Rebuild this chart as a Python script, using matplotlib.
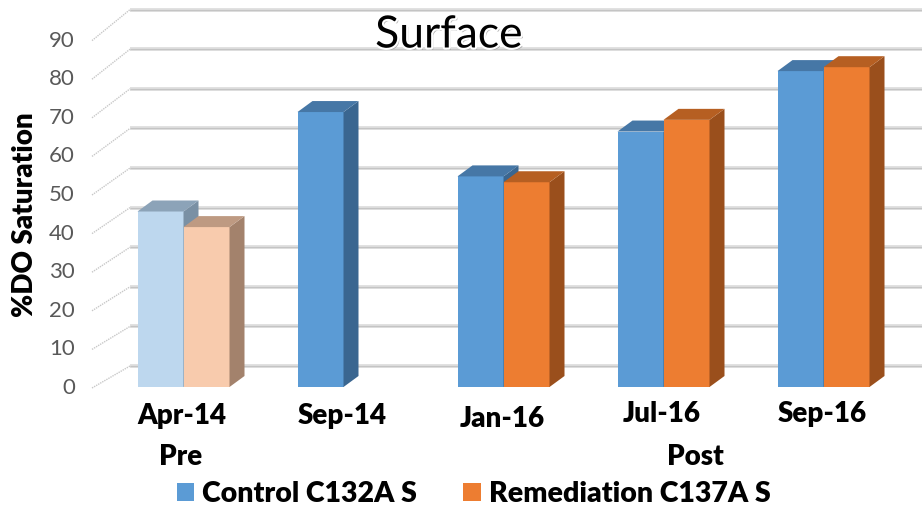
import numpy as np
import matplotlib
matplotlib.use('Agg')
import matplotlib.pyplot as plt
from matplotlib.patches import Polygon, Patch
import matplotlib.patheffects as pe

plt.rcParams['font.family'] = ['Lato', 'DejaVu Sans']

# ---- data ----
categories = ['Apr-14', 'Sep-14', 'Jan-16', 'Jul-16', 'Sep-16']
control = [45, 70.5, 54, 65.5, 81]
remediation = [41, np.nan, 52.5, 68.5, 82]
pre_period = [True, False, False, False, False]
series_names = ['Control C132A S', 'Remediation C137A S']
yticks = [0, 10, 20, 30, 40, 50, 60, 70, 80, 90]
title = 'Surface'
ylabel = '%DO Saturation'

# ---- styles ----
colors = {
    'ctrl': dict(front='#5B9BD5', top='#4677A6', side='#3A6690'),
    'rem': dict(front='#ED7D31', top='#B65F22', side='#9A4F1C'),
    'ctrl_pre': dict(front='#BDD7EE', top='#8CA3B8', side='#7A90A4'),
    'rem_pre': dict(front='#F8CBAD', top='#BE9A82', side='#A3826C'),
}
label_shift_px = [0, 0, 3, -2, -2]   # small vertical jitter of category labels
BOLD = 'heavy'

W, H = 922, 512
fig = plt.figure(figsize=(W / 100, H / 100), dpi=100)
PX_X = 160.0   # pixels per category
PX_Y = 3.9     # pixels per value unit
ax = fig.add_axes([103.5 / W, 125 / H, 800 / W, 90 * PX_Y / H])
ax.set_xlim(-0.5, 4.5)
ax.set_ylim(0, 90)
ax.axis('off')


def px2x(px):
    return (px - 103.5) / PX_X - 0.5


def px2y(py):
    return (387 - py) / PX_Y


def back_y(v):
    return px2y(366 - 3.96 * v)


def front_y(v):
    return px2y(388 - 3.86 * v)


# back wall gridlines and side-wall connectors
for v in yticks:
    ax.plot([px2x(130), px2x(940)], [back_y(v)] * 2, color='#e0e0e0', lw=2.8,
            clip_on=False, solid_capstyle='butt', zorder=1)
    ax.plot([px2x(130), px2x(940)], [back_y(v)] * 2, color='#c4c4c4', lw=0.9,
            clip_on=False, solid_capstyle='butt', zorder=1)
    ax.plot([px2x(92), px2x(130)], [front_y(v), back_y(v)], color='#c8c8c8',
            lw=1.0, ls=(0, (1, 0.7)), clip_on=False, zorder=1)
    ax.text(px2x(75), front_y(v), str(v), ha='right', va='center',
            fontsize=16, color='#595959')

# 3D-look bars
bw = 46 / PX_X
dx = 15 / PX_X
dy = 11 / PX_Y
z = 2
for i in range(len(categories)):
    for s, (vals, key) in enumerate([(control, 'ctrl'), (remediation, 'rem')]):
        val = vals[i]
        if np.isnan(val):
            continue
        c = colors[key + ('_pre' if pre_period[i] else '')]
        xc = i + (s - 0.5) * bw
        x0, x1 = xc - bw / 2, xc + bw / 2
        ax.bar(xc, val, width=bw, color=c['front'], edgecolor='none',
               zorder=z, clip_on=False)
        ax.add_patch(Polygon([(x1, 0), (x1 + dx, dy), (x1 + dx, val + dy), (x1, val)],
                             closed=True, facecolor=c['side'], edgecolor='none',
                             zorder=z, clip_on=False))
        ax.add_patch(Polygon([(x0, val), (x0 + dx, val + dy), (x1 + dx, val + dy), (x1, val)],
                             closed=True, facecolor=c['top'], edgecolor='none',
                             zorder=z, clip_on=False))
        z += 1

# category labels
for i, cat in enumerate(categories):
    ax.text(i - 0.01, px2y(416 + label_shift_px[i]), cat, ha='center', va='center',
            fontsize=20, fontweight=BOLD, color='black')
ax.text(px2x(181), px2y(457), 'Pre', ha='center', va='center', fontsize=20,
        fontweight=BOLD)
ax.text(px2x(695), px2y(457), 'Post', ha='center', va='center', fontsize=20,
        fontweight=BOLD)

# y label
ax.text(px2x(25), px2y(215), ylabel, rotation=90, ha='center', va='center',
        fontsize=20, fontweight=BOLD)

# title
ax.text(px2x(449), px2y(35), title, ha='center', va='center', fontsize=32,
        color='black',
        path_effects=[pe.SimplePatchShadow(offset=(1.5, -1.5), shadow_rgbFace='#808080', alpha=0.6),
                      pe.Stroke(linewidth=3, foreground='white'), pe.Normal()])

# legend
handles = [Patch(facecolor=colors['ctrl']['front']), Patch(facecolor=colors['rem']['front'])]
fig.legend(handles, series_names, loc='center', bbox_to_anchor=(473.5 / W, 1 - 494 / H),
           ncol=2, frameon=False, prop=dict(weight=BOLD, size=20.5),
           handlelength=0.63, handleheight=0.63, handletextpad=0.28, columnspacing=1.6,
           borderpad=0.1)

fig.savefig('out.png', dpi=100)
